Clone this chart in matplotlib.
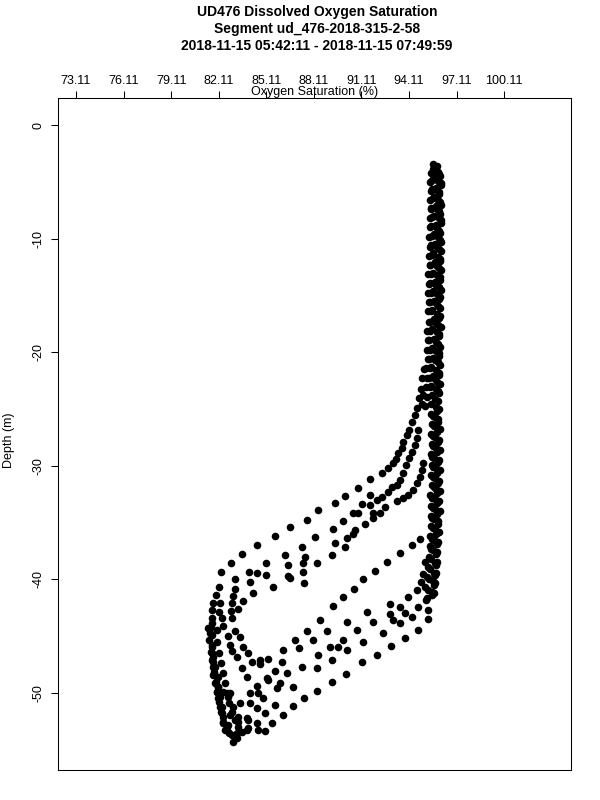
import matplotlib
matplotlib.use("Agg")
import matplotlib.pyplot as plt

plt.rcParams["font.family"] = ["Liberation Sans", "DejaVu Sans"]

# -----------------------------
# Title / axis text
# -----------------------------
title_lines = [
    "UD476 Dissolved Oxygen Saturation",
    "Segment ud_476-2018-315-2-58",
    "2018-11-15 05:42:11 - 2018-11-15 07:49:59",
]
x_label = "Oxygen Saturation (%)"
y_label = "Depth (m)"
x_ticks = [73.11, 76.11, 79.11, 82.11, 85.11, 88.11, 91.11, 94.11, 97.11, 100.11]
y_ticks = [0, -10, -20, -30, -40, -50]

# -----------------------------
# Upper column (all profiles overlap, surface to ~-25 m)
# -----------------------------
col_x = [
    95.85, 96.05, 96.12, 96.02, 96.14, 96.08, 96.15, 96.04, 96.12, 96.10, 96.03, 96.13, 96.06,
    96.11, 96.00, 96.08, 96.02, 96.10, 95.98, 96.05, 96.00, 96.07, 95.97, 96.03, 96.00,
    95.60, 95.48, 95.44, 95.50, 95.42, 95.47, 95.40, 95.45, 95.38, 95.44, 95.36, 95.40, 95.33,
    95.38, 95.30, 95.35, 95.28, 95.34, 95.27, 95.31, 95.25, 95.30, 95.20, 95.26, 95.15, 95.22, 95.12,
    95.75, 95.72, 95.80, 95.66, 95.78, 95.70, 95.82, 95.68, 95.76, 95.64, 95.74, 95.62, 95.72,
    95.60, 95.70, 95.58, 95.68, 95.56, 95.66, 95.55, 95.64, 95.52, 95.60, 95.50, 95.58, 95.48,
    95.92, 95.95, 95.88, 95.96, 95.90, 95.98, 95.87, 95.94, 95.85, 95.92, 95.84, 95.90, 95.82,
    95.88, 95.80, 95.86, 95.79, 95.85, 95.78, 95.82, 95.76, 95.80, 95.74, 95.78, 95.72,
    96.02, 96.10, 95.98, 96.08, 96.00, 96.12, 95.99, 96.07, 96.01, 96.09, 95.97, 96.05, 95.99,
    96.06, 95.95, 96.04, 95.96, 96.02, 95.93, 96.00, 95.94, 95.98, 95.90, 95.96, 95.92,
    95.62, 95.58, 95.55, 95.60, 95.52, 95.58, 95.50, 95.56, 95.48, 95.54, 95.46, 95.52,
    95.45, 95.50, 95.43, 95.48, 95.40, 95.46, 95.38, 95.44, 95.36, 95.42, 95.34, 95.40,
    95.05, 94.95, 94.85, 94.75, 94.60, 94.50, 95.00, 94.90,
]
col_depth = [
    -3.6, -4.5, -5.3, -6.1, -7.0, -7.8, -8.6, -9.5, -10.3, -11.1, -12.0, -12.8, -13.6,
    -14.5, -15.3, -16.1, -17.0, -17.8, -18.6, -19.5, -20.3, -21.1, -22.0, -22.8, -23.6,
    -3.4, -4.2, -5.0, -5.8, -6.6, -7.4, -8.2, -9.0, -9.9, -10.7, -11.5, -12.3, -13.1,
    -14.0, -14.8, -15.6, -16.4, -17.3, -18.1, -18.9, -19.8, -20.6, -21.4, -22.3, -23.1, -23.9, -24.7,
    -3.8, -4.6, -5.5, -6.3, -7.1, -8.0, -8.8, -9.6, -10.5, -11.3, -12.1, -13.0, -13.8,
    -14.6, -15.5, -16.3, -17.1, -18.0, -18.8, -19.6, -20.5, -21.3, -22.1, -23.0, -23.8, -24.6,
    -4.1, -4.9, -5.7, -6.6, -7.4, -8.2, -9.1, -9.9, -10.7, -11.6, -12.4, -13.2, -14.1,
    -14.9, -15.7, -16.6, -17.4, -18.2, -19.1, -19.9, -20.7, -21.6, -22.4, -23.2, -24.1,
    -4.3, -5.1, -5.9, -6.8, -7.6, -8.4, -9.3, -10.1, -10.9, -11.8, -12.6, -13.4, -14.3,
    -15.1, -15.9, -16.8, -17.6, -18.4, -19.3, -20.1, -20.9, -21.8, -22.6, -23.4, -24.3,
    -3.9, -4.8, -5.6, -6.4, -7.3, -8.1, -8.9, -9.8, -10.6, -11.4, -12.3, -13.1,
    -13.9, -14.8, -15.6, -16.4, -17.3, -18.1, -18.9, -19.8, -20.6, -21.4, -22.3, -23.1,
    -21.5, -22.3, -23.2, -24.0, -24.9, -25.5, -23.8, -24.6,
]

# -----------------------------
# Deep column (descents, ~-25 to -42 m)
# -----------------------------
deep_x = [
    96.02, 95.96, 96.05, 95.98, 96.06, 95.97, 96.04, 95.99, 96.07, 95.98, 96.03, 95.95, 96.00, 95.92, 95.88,
    95.84, 95.80, 95.76, 95.70,
    95.52, 95.58, 95.50, 95.56, 95.48, 95.55, 95.50, 95.57, 95.46, 95.52, 95.48, 95.50, 95.42, 95.45, 95.38,
    95.30, 95.22, 95.10,
    95.78, 95.72, 95.80, 95.74, 95.82, 95.70, 95.78, 95.75, 95.80, 95.72, 95.76, 95.70, 95.74, 95.66, 95.62,
    95.88, 95.92, 95.86, 95.95, 95.87, 95.93, 95.85, 95.94, 95.88, 95.90, 95.84, 95.91, 95.82, 95.86, 95.78,
    95.80, 95.72, 95.66, 95.58,
    95.62, 95.66, 95.60, 95.65, 95.58, 95.64, 95.60, 95.66, 95.57, 95.63, 95.58, 95.60, 95.55, 95.52, 95.48,
    95.42, 95.36, 95.28, 95.20,
]
deep_depth = [
    -25.0, -25.9, -26.8, -27.7, -28.6, -29.5, -30.4, -31.3, -32.2, -33.1, -34.0, -34.9, -35.8, -36.7, -37.6,
    -38.5, -39.4, -40.3, -41.2,
    -25.4, -26.3, -27.2, -28.1, -29.0, -29.9, -30.8, -31.7, -32.6, -33.5, -34.4, -35.3, -36.2, -37.1, -38.0,
    -38.9, -39.8, -40.7,
    -24.8, -25.7, -26.6, -27.5, -28.4, -29.3, -30.2, -31.1, -32.0, -32.9, -33.8, -34.7, -35.6, -36.5, -37.4,
    -25.2, -26.1, -27.0, -27.9, -28.8, -29.7, -30.6, -31.5, -32.4, -33.3, -34.2, -35.1, -36.0, -36.9, -37.8,
    -38.7, -39.6, -40.5, -41.4,
    -25.6, -26.5, -27.4, -28.3, -29.2, -30.1, -31.0, -31.9, -32.8, -33.7, -34.6, -35.5, -36.4, -37.3, -38.2,
    -39.1, -40.0, -40.9, -41.8,
]

# -----------------------------
# Ascent fan (upper left, ~-26 to -38 m)
# -----------------------------
fan_x = [
    94.27, 94.13, 94.00, 93.75, 93.64, 93.43, 93.29, 93.12, 92.80, 92.38, 91.65, 90.91, 90.07,
    94.70, 94.59, 94.49, 94.27, 94.13, 93.92, 93.75, 93.54, 93.33, 93.01, 92.80, 92.38, 92.07, 91.65,
    95.01, 94.91, 94.80, 94.59, 94.38, 94.07, 93.75, 93.33,
    89.44, 91.12, 91.65, 92.59, 90.60, 90.91, 91.86, 92.28, 89.97, 91.33, 91.86, 89.34, 90.70,
    90.60, 90.18, 89.44, 90.07, 89.23, 94.27, 93.54, 94.80,
    88.39, 87.65, 86.60, 85.66, 84.50, 83.56, 88.18, 87.34, 86.29, 87.55,
]
fan_depth = [
    -26.12, -26.85, -27.29, -27.88, -28.46, -28.90, -29.43, -29.78, -30.22, -30.60, -31.19, -31.98, -32.66,
    -26.85, -27.58, -28.17, -28.76, -29.34, -29.93, -30.60, -31.25, -31.69, -31.84, -32.28, -32.72, -33.01, -32.57,
    -29.78, -30.37, -30.96, -31.54, -32.13, -32.57, -32.86, -33.07,
    -33.25, -33.36, -33.45, -33.60, -34.13, -34.18, -34.18, -34.13, -34.83, -35.12, -34.62, -35.59, -35.65,
    -36.00, -36.38, -36.82, -37.18, -37.85, -36.97, -37.71, -36.47,
    -33.89, -34.77, -35.42, -36.18, -36.97, -37.76, -36.30, -37.12, -37.85, -38.06,
]

# -----------------------------
# Lower region (descent hooks + bottom turns, below ~-38 m)
# -----------------------------
low_x = [
    82.86, 85.09, 86.50, 87.44, 88.28, 92.70, 95.11, 95.75,
    82.23, 83.14, 84.02, 84.50, 85.09, 86.50, 87.44, 91.96, 95.01, 95.68,
    82.15, 83.14, 84.08, 85.55, 86.60, 87.48, 91.18, 94.84, 95.64,
    81.94, 83.03, 84.25, 90.62, 94.59, 95.54,
    81.77, 82.19, 82.92, 83.62, 89.97, 94.06, 95.22,
    81.66, 82.15, 82.86, 83.35, 89.29, 92.91, 93.54, 94.69, 95.33,
    81.66, 82.29, 82.92, 88.49, 91.44, 92.91, 93.85, 94.27, 95.33,
    81.60, 82.40, 83.14, 87.65, 88.91, 90.18, 91.86, 92.49, 93.12, 93.54, 94.69,
    81.66, 82.71, 83.45, 86.92, 88.07, 90.81, 91.23, 89.97, 93.85,
    81.66, 82.82, 83.66, 86.18, 87.17, 89.12, 89.65, 90.18, 92.95,
    81.66, 82.92, 83.98, 84.71, 85.24, 88.39, 91.12, 92.11,
    81.66, 83.24, 84.19, 86.08, 87.34, 88.28, 89.23, 90.13,
    81.77, 83.56, 84.71, 85.66, 86.39, 89.23,
    81.77, 82.08, 83.87, 85.13, 85.97, 86.81, 88.33,
    81.87, 82.08, 84.50, 85.24, 85.76, 87.51,
    81.98, 82.40, 82.82, 84.08, 84.61, 84.92, 86.81,
    82.08, 82.71, 83.45, 84.50, 85.66, 86.14,
    82.19, 83.03, 84.08, 85.03, 85.49,
    82.29, 82.82, 83.35, 83.87, 84.50, 85.03,
    82.40, 82.71, 83.35, 83.98, 84.61, 83.98,
    82.61, 83.24, 83.87,
    83.03,
    81.66, 81.56, 81.66, 81.77, 81.87, 81.98, 82.08, 82.19, 82.29, 82.40, 82.61, 82.93, 83.24,
    81.45, 81.52, 81.60, 81.73, 81.81, 81.94, 82.02, 82.15, 82.23, 82.40, 82.50, 82.78,
    81.98, 82.02, 82.15, 82.23, 82.36, 82.50, 82.65, 82.78, 82.93, 83.13, 83.35, 83.56,
]
low_depth = [
    -38.53, -38.59, -38.70, -38.53, -38.59, -38.44, -38.44, -38.59,
    -39.32, -39.99, -39.32, -39.47, -39.58, -39.70, -39.32, -39.23, -39.52, -39.41,
    -40.70, -40.87, -40.20, -40.64, -39.91, -40.35, -39.96, -40.20, -40.11,
    -41.37, -41.46, -41.23, -40.84, -40.93, -41.08,
    -42.11, -42.11, -42.11, -41.87, -41.52, -41.58, -41.67,
    -42.69, -42.84, -42.75, -42.63, -42.37, -42.19, -42.40, -42.40, -42.69,
    -43.43, -43.43, -43.43, -43.60, -42.90, -43.05, -42.99, -43.28, -43.52,
    -44.16, -44.10, -44.51, -44.51, -44.51, -43.72, -43.72, -44.75, -43.57, -43.87, -44.45,
    -44.89, -44.98, -45.10, -45.33, -45.33, -44.45, -45.48, -45.33, -45.19,
    -45.77, -45.77, -45.92, -46.21, -46.01, -45.98, -45.92, -46.21, -45.86,
    -46.51, -46.27, -46.51, -47.10, -47.01, -46.65, -47.30, -46.65,
    -47.10, -46.80, -47.24, -47.24, -47.68, -47.83, -47.10, -48.36,
    -47.68, -47.83, -47.45, -48.06, -48.27, -49.00,
    -48.42, -48.56, -48.56, -48.71, -49.15, -49.50, -49.79,
    -49.15, -49.44, -49.38, -48.86, -49.59, -50.47,
    -49.88, -49.88, -50.03, -50.03, -50.03, -50.47, -51.14,
    -50.47, -50.32, -50.91, -51.35, -51.06, -51.94,
    -51.20, -51.20, -50.91, -51.79, -52.67,
    -51.79, -51.94, -52.08, -52.23, -52.67, -53.32,
    -52.67, -52.82, -52.52, -53.11, -53.26, -52.38,
    -53.26, -53.55, -53.26,
    -54.28,
    -43.87, -44.75, -45.92, -46.80, -47.68, -48.56, -49.44, -50.32, -51.20, -52.08, -52.96, -53.70, -53.99,
    -44.31, -45.33, -46.36, -47.24, -48.12, -49.00, -49.88, -50.76, -51.64, -52.52, -53.26, -53.55,
    -44.45, -45.48, -46.51, -47.39, -48.27, -49.15, -50.03, -50.91, -51.64, -52.38, -52.96, -53.40,
]

# -----------------------------
# Plot
# -----------------------------
fig = plt.figure(figsize=(6, 8), dpi=100)
ax = fig.add_axes([58 / 600, 30 / 800, 513 / 600, 672 / 800])

for xs, ys in [(col_x, col_depth), (deep_x, deep_depth), (fan_x, fan_depth), (low_x, low_depth)]:
    ax.scatter(xs, ys, s=30, c="black", linewidths=0, zorder=3)

ax.set_xlim(71.975, 104.32)
ax.set_ylim(-56.78, 2.38)

ax.xaxis.tick_top()
ax.set_xticks(x_ticks)
ax.set_xticklabels([f"{t:.2f}" for t in x_ticks], fontsize=9)
ax.set_yticks(y_ticks)
ax.set_yticklabels([str(t) for t in y_ticks], fontsize=9, rotation=90, va="center")
ax.tick_params(axis="x", length=5, width=0.75, pad=3)
ax.tick_params(axis="y", length=5, width=0.75, pad=5)
for spine in ax.spines.values():
    spine.set_linewidth(0.75)

fig.text(314.5 / 600, 1 - 92 / 800, x_label, ha="center", va="center", fontsize=9)
fig.text(9 / 600, 0.5 - 40 / 800, y_label, ha="center", va="center", rotation=90, fontsize=9)

for i, line in enumerate(title_lines):
    fig.text(317 / 600, 1 - (12 + 17 * i) / 800, line, ha="center", va="center",
             fontsize=10, fontweight="bold")

fig.savefig("out.png", dpi=100)
plt.close(fig)
